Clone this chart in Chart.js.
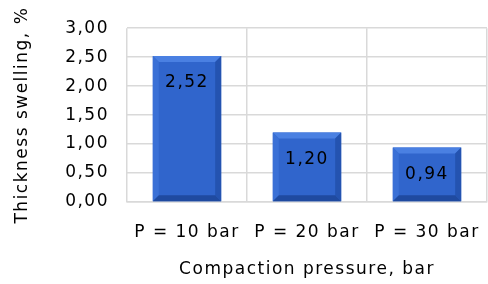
<!DOCTYPE html>
<html>
<head>
<meta charset="utf-8">
<script src="https://cdn.jsdelivr.net/npm/chart.js@4/dist/chart.umd.min.js"></script>
<style>
  html, body { margin: 0; padding: 0; background: #fff; }
  #wrap { width: 488px; height: 284px; }
</style>
</head>
<body>
<div id="wrap"><canvas id="swelling"></canvas></div>
<script>
const categories = ['P = 10 bar', 'P = 20 bar', 'P = 30 bar'];
const swelling = [2.52, 1.20, 0.94];
const yTicks = [0, 0.5, 1, 1.5, 2, 2.5, 3];

const FONT = 'DejaVu Sans';
const SIZE = 17;
const fmt = (v) => v.toFixed(2).replace('.', ',');

// the original font is wide, so space the letters out a bit
const wideText = {
    id: 'wideText',
    beforeLayout(chart) { chart.ctx.letterSpacing = '1.5px'; },
    beforeDraw(chart) { chart.ctx.letterSpacing = '1.5px'; }
};

// bevel look + value labels, drawn on top of the library's bar elements
const bevelBars = {
    id: 'bevelBars',
    afterDatasetsDraw(chart) {
        const ctx = chart.ctx;
        const meta = chart.getDatasetMeta(0);
        meta.data.forEach((bar, i) => {
            const left = bar.x - bar.width / 2;
            const right = bar.x + bar.width / 2;
            const top = bar.y;
            const bottom = bar.base;
            const b = 6;
            ctx.save();
            // top bevel
            ctx.fillStyle = '#4a80e2';
            ctx.beginPath();
            ctx.moveTo(left, top); ctx.lineTo(right, top);
            ctx.lineTo(right - b, top + b); ctx.lineTo(left + b, top + b);
            ctx.fill();
            // left bevel
            ctx.fillStyle = '#3a70d6';
            ctx.beginPath();
            ctx.moveTo(left, top); ctx.lineTo(left + b, top + b);
            ctx.lineTo(left + b, bottom - b); ctx.lineTo(left, bottom);
            ctx.fill();
            // right bevel
            ctx.fillStyle = '#2453b0';
            ctx.beginPath();
            ctx.moveTo(right, top); ctx.lineTo(right - b, top + b);
            ctx.lineTo(right - b, bottom - b); ctx.lineTo(right, bottom);
            ctx.fill();
            // bottom bevel
            ctx.fillStyle = '#1f4aa0';
            ctx.beginPath();
            ctx.moveTo(left, bottom); ctx.lineTo(left + b, bottom - b);
            ctx.lineTo(right - b, bottom - b); ctx.lineTo(right, bottom);
            ctx.fill();
            // value label
            ctx.fillStyle = '#000';
            ctx.font = SIZE + 'px ' + FONT;
            ctx.textAlign = 'center';
            ctx.textBaseline = 'middle';
            ctx.fillText(fmt(swelling[i]), bar.x, top + 27);
            ctx.restore();
        });
    }
};

var swellingCtx = document.getElementById('swelling').getContext('2d');
var swellingChart = new Chart(swellingCtx, {
    type: 'bar',
    data: {
        labels: categories,
        datasets: [{
            data: swelling,
            backgroundColor: '#3065cc',
            borderWidth: 0,
            barPercentage: 0.57,
            categoryPercentage: 1
        }]
    },
    options: {
        responsive: true,
        maintainAspectRatio: false,
        animation: false,
        layout: { padding: { top: 18, right: 1, left: 12, bottom: 4 } },
        plugins: {
            legend: { display: false },
            tooltip: { enabled: false }
        },
        scales: {
            x: {
                grid: { color: '#d9d9d9', lineWidth: 1.5, offset: true, drawTicks: false },
                border: { color: '#d9d9d9', width: 1.5 },
                ticks: { color: '#000', font: { family: FONT, size: SIZE }, padding: 20 },
                title: {
                    display: true,
                    text: 'Compaction pressure, bar',
                    color: '#000',
                    font: { family: FONT, size: SIZE },
                    padding: { top: 10, bottom: 0 }
                },
                afterFit(scale) {
                    scale.height = 78;
                    scale.paddingLeft = 0;
                    scale.paddingRight = 0;
                }
            },
            y: {
                min: 0,
                max: 3,
                afterBuildTicks(scale) { scale.ticks = yTicks.map(v => ({ value: v })); },
                grid: { color: '#d9d9d9', lineWidth: 1.5, drawTicks: false },
                border: { display: false },
                ticks: {
                    color: '#000',
                    font: { family: FONT, size: SIZE },
                    padding: 18,
                    callback: (v) => fmt(v)
                },
                title: {
                    display: true,
                    text: 'Thickness swelling, %',
                    color: '#000',
                    font: { family: FONT, size: SIZE },
                    padding: { top: 0, bottom: 8 }
                },
                afterFit(scale) { scale.width = 115; }
            }
        }
    },
    plugins: [wideText, bevelBars]
});
</script>
</body>
</html>
